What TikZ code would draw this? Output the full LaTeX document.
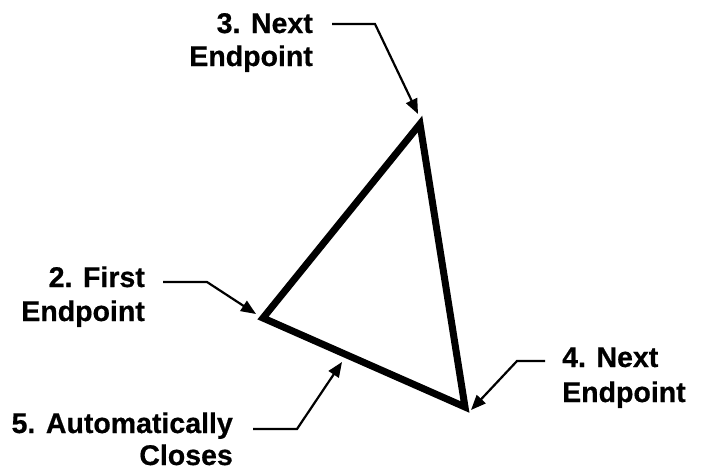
\documentclass[tikz,border=0pt]{standalone}
\usepackage{fontspec}
\setmainfont{Liberation Sans}
\newfontfamily\lblfont[FakeBold=0.6]{Liberation Sans Bold}
\usetikzlibrary{arrows.meta}
\tikzset{
  lbl/.style={inner sep=0pt, font=\fontsize{28.5}{32}\selectfont\lblfont},
  tri/.style={line width=7pt, line join=miter, miter limit=10},
  lead/.style={line width=2.2pt, -{Triangle[length=15pt,width=12pt]}},
}
\begin{document}
\begin{tikzpicture}[x=1pt,y=-1pt]
\useasboundingbox (0,0) rectangle (703,472);
\fill[white] (0,0) rectangle (703,472);
% triangle
\coordinate (A) at (420,124);
\coordinate (L) at (263,318);
\coordinate (R) at (465,407);
\draw[tri] (A) -- (L) -- (R) -- cycle;
% labels
\node[lbl, anchor=base east] (l3a) at (313,33) {3. Next};
\node[lbl, anchor=base east] (l3b) at (313,66) {Endpoint};
\node[lbl, anchor=base east] (l2a) at (145,287) {2. First};
\node[lbl, anchor=base east] (l2b) at (145,321) {Endpoint};
\node[lbl, anchor=base west] (l4a) at (562,367) {4. Next};
\node[lbl, anchor=base west] (l4b) at (562,402) {Endpoint};
\node[lbl, anchor=base east] (l5a) at (233,433) {5. Automatically};
\node[lbl, anchor=base east] (l5b) at (233,465) {Closes};
% leader points
\coordinate (s3) at (332,24);  \coordinate (b3) at (375,24);  \coordinate (t3) at (418,114);
\coordinate (s2) at (163,282); \coordinate (b2) at (207,282); \coordinate (t2) at (256,314);
\coordinate (s4) at (545,361); \coordinate (b4) at (517,361); \coordinate (t4) at (471,410);
\coordinate (s5) at (253,429); \coordinate (b5) at (297,429); \coordinate (t5) at (342,362);
\draw[lead] (s3) -- (b3) -- (t3);
\draw[lead] (s2) -- (b2) -- (t2);
\draw[lead] (s4) -- (b4) -- (t4);
\draw[lead] (s5) -- (b5) -- (t5);
\end{tikzpicture}
\end{document}
